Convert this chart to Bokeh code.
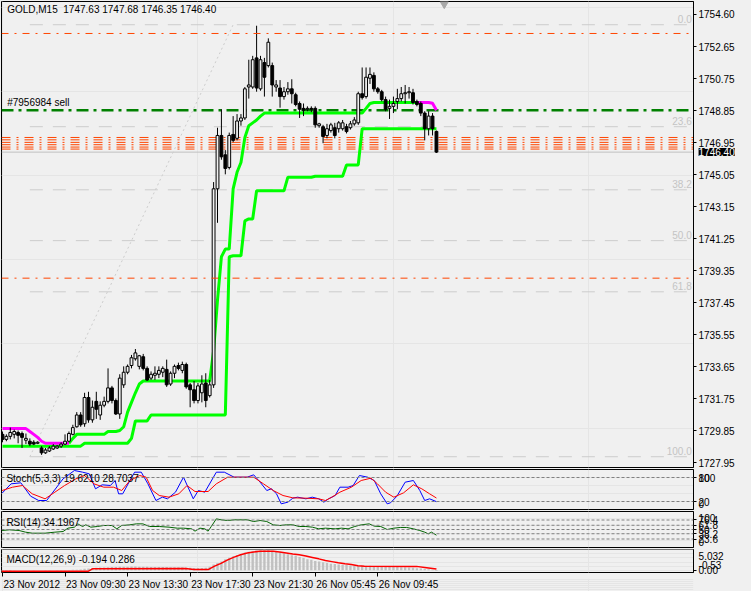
from bokeh.plotting import figure
from bokeh.layouts import column
from bokeh.models import Range1d, LinearAxis, FixedTicker, Label, Span, NumeralTickFormatter
from bokeh.core.properties import value
from bokeh.embed import file_html
from bokeh.resources import INLINE

# ---------------- data ----------------
opens = [1729.63,1729.33,1729.51,1729.63,1729.74,1729.68,1729.28,1729.22,1729.16,1729.10,
         1728.82,1728.53,1728.64,1728.76,1728.82,1728.93,1729.05,1729.22,1729.63,1730.08,
         1730.78,1730.26,1731.82,1730.49,1731.59,1730.78,1731.36,1731.59,1732.39,1731.64,
         1730.84,1732.57,1733.32,1733.72,1734.12,1733.67,1734.24,1733.55,1732.97,1733.14,
         1733.20,1733.32,1733.49,1732.62,1733.26,1733.72,1733.43,1733.78,1732.57,1732.28,
         1731.64,1732.10,1732.68,1731.93,1732.57,1744.22,1747.39,1746.24,1745.49,1747.45,
         1747.22,1748.25,1748.43,1750.27,1750.27,1752.00,1750.16,1751.72,1751.54,1751.54,
         1750.27,1750.21,1749.70,1749.99,1750.16,1749.81,1749.29,1749.00,1748.95,1749.00,
         1749.00,1747.97,1747.91,1747.39,1747.68,1747.85,1747.79,1747.79,1747.91,1747.85,
         1748.08,1748.14,1749.87,1749.70,1750.79,1750.96,1750.16,1749.99,1749.52,1749.00,
         1749.12,1749.41,1749.58,1749.87,1749.93,1749.93,1749.41,1749.29,1748.72,1747.79,
         1748.54,1747.63]
highs = [1729.80,1729.63,1730.03,1729.91,1729.86,1729.80,1729.68,1729.39,1729.28,1729.22,
         1728.93,1728.82,1728.93,1729.05,1728.99,1729.16,1729.63,1729.80,1730.20,1730.95,
         1730.95,1732.10,1732.16,1731.64,1732.16,1731.59,1731.87,1733.55,1732.51,1731.76,
         1733.20,1733.67,1733.78,1734.35,1734.70,1734.35,1734.41,1733.67,1733.37,1733.67,
         1733.67,1733.67,1734.07,1733.37,1733.78,1733.89,1733.95,1733.89,1732.68,1732.80,
         1732.68,1733.14,1733.26,1732.86,1744.62,1747.85,1748.95,1746.52,1747.56,1748.54,
         1748.66,1748.66,1750.27,1751.89,1752.12,1753.91,1752.12,1752.00,1753.16,1751.72,
         1750.68,1750.68,1750.27,1750.56,1750.73,1749.93,1749.41,1749.29,1749.12,1749.12,
         1749.12,1748.14,1748.02,1748.08,1748.14,1748.14,1748.25,1748.31,1748.08,1748.25,
         1748.48,1749.99,1751.43,1751.43,1751.43,1751.14,1750.27,1750.10,1749.70,1749.52,
         1749.70,1750.16,1750.27,1750.39,1750.27,1750.16,1749.52,1749.41,1748.83,1748.83,
         1748.72,1747.68]
lows = [1729.16,1729.22,1729.33,1729.39,1729.10,1728.82,1729.05,1728.93,1728.99,1729.05,
        1728.41,1728.47,1728.58,1728.70,1728.76,1728.82,1728.99,1729.16,1729.57,1730.03,
        1730.08,1730.08,1730.32,1730.32,1730.55,1730.49,1731.24,1731.47,1731.47,1730.78,
        1730.55,1732.39,1733.20,1733.55,1734.01,1733.49,1733.43,1732.80,1732.86,1732.86,
        1732.97,1733.03,1732.45,1732.51,1732.97,1733.43,1733.26,1732.34,1731.24,1731.47,
        1731.47,1731.53,1731.24,1731.82,1732.39,1742.20,1745.95,1745.08,1745.37,1746.99,
        1747.10,1747.97,1748.31,1749.58,1750.16,1749.99,1750.05,1749.70,1751.43,1749.70,
        1749.99,1749.04,1749.52,1749.81,1749.29,1749.12,1748.43,1748.54,1748.83,1748.77,
        1747.85,1747.85,1746.93,1747.22,1747.56,1747.22,1747.56,1747.68,1747.51,1747.74,
        1747.97,1748.02,1749.52,1749.58,1750.45,1749.99,1749.87,1749.41,1748.83,1748.37,
        1748.72,1748.95,1749.41,1749.29,1749.58,1749.23,1749.12,1748.54,1747.10,1747.39,
        1747.39,1746.35]
closes = [1729.33,1729.51,1729.74,1729.80,1729.57,1729.45,1729.39,1729.05,1729.05,1729.16,
          1728.53,1728.70,1728.82,1728.93,1728.93,1729.05,1729.22,1729.68,1730.03,1730.78,
          1730.20,1731.82,1730.49,1731.24,1731.12,1731.36,1731.59,1732.39,1731.64,1730.84,
          1732.97,1733.32,1733.67,1734.18,1734.47,1734.30,1733.55,1732.86,1733.20,1733.26,
          1733.43,1733.55,1732.57,1733.26,1733.67,1733.55,1733.78,1732.45,1732.28,1731.64,
          1732.51,1732.62,1731.64,1732.57,1744.22,1747.39,1746.12,1745.43,1747.39,1747.10,
          1748.25,1748.43,1750.16,1750.39,1751.89,1750.21,1751.89,1750.85,1752.93,1750.39,
          1750.39,1749.70,1749.99,1750.16,1749.87,1749.23,1748.95,1748.89,1749.00,1748.95,
          1748.02,1748.08,1747.33,1747.79,1748.02,1747.39,1748.14,1748.14,1747.62,1748.08,
          1748.31,1749.87,1749.64,1750.85,1751.02,1750.16,1749.99,1749.52,1748.95,1749.12,
          1749.29,1749.58,1749.87,1749.93,1749.99,1749.35,1749.23,1748.72,1747.79,1748.54,
          1747.79,1746.40]

# trailing stop lines (per bar)
stop_fast = ([1729.97]*7 + [1729.80,1729.63,1729.45,1729.22] + [1729.10]*7 + [1729.39] + [1729.63]*8
             + [1729.80]*3 + [1729.86,1730.08,1730.95,1731.53,1732.10,1732.62] + [1732.80]*18
             + [1734.58,1737.60,1740.18,1740.64,1740.64,1744.22,1745.20,1745.78,1747.27,1747.97,1748.14,1748.31,1748.54]
             + [1748.72]*26 + [1749.00,1749.29] + [1749.35]*15 + [1749.30,1748.89])
stop_slow = ([1728.93]*21 + [1729.10]*12 + [1729.39] + [1730.43]*4 + [1730.78]*20 + [1740.18]
             + [1740.24]*3 + [1742.31] + [1742.43]*2 + [1744.10]*8 + [1744.91]*7 + [1744.97]*8
             + [1745.64]*4 + [1747.79]*20)
fast_down_start = [0, 106]   # magenta segments (bar ranges)
fast_down_end = [17, 111]

# price levels / objects
price_ticks = [1754.60,1752.65,1750.75,1748.85,1746.95,1745.05,1743.15,1741.25,
               1739.35,1737.45,1735.55,1733.65,1731.75,1729.85,1727.95]
fib_names = ["0.0","23.6","38.2","50.0","61.8","100.0"]
fib_prices = [1753.97,1747.91,1744.16,1741.14,1738.10,1728.30]
fib_bars = [7, 59]
fib_diag = [1728.30, 1753.97]
red_lines = [1753.45, 1738.91]
order_lines = [1747.27,1747.13,1746.98,1746.84,1746.70,1746.58]
sell_line = 1748.89
bid = 1746.40

# Stochastic
stoch_k_x = [-0.1,2.2,4.7,7.2,9.25,11.3,15.5,18.4,20.5,22.2,23.8,25.5,27.6,28.8,29.7,30.75,32.6,33.8,35.5,37.2,
             39.25,40.9,42.2,44.25,46.3,48.8,50.1,51.75,54.7,56.75,59.25,62.6,64.25,65.9,67.6,68.8,70.1,71.3,73,74.25,
             75.5,77.6,79.25,80.9,82.2,83.4,85.1,86.3,88.4,89.7,91.3,93.4,95.1,96.75,98.4,99.25,100.9,103,105.1,106.75,
             108,109.25,111]
stoch_k_y = [40.8,64.2,66.7,33.3,22.5,22.5,76.7,97.5,93.3,89.2,51.7,61.7,60,72.5,39.2,39.2,72.5,93.3,93.3,64.2,
             22.5,30.8,26.7,43.3,80.8,26.7,47.5,43.3,93.3,93.3,80.8,80.8,86.7,68.3,47.5,51.7,39.2,14.2,18.3,28.3,
             30.8,26.7,30.8,26.7,18.3,26.7,35,55.8,55.8,60,85,80.8,72.5,39.2,14.2,16.7,33.3,68.3,72.5,47.5,
             22.5,26.7,19.62]
stoch_d_x = [-0.1,2.6,5.1,7.6,10.9,13.4,15.9,18.8,21,23.4,25.9,28.4,30.5,32.6,35.1,36.75,38.4,40.1,42.6,45.1,
             47.2,49.25,52.6,54.7,57.6,60.9,64.25,66.75,69.25,71.75,74.25,77.6,80.9,82.6,84.25,86.3,89.25,91.75,94.25,95.9,
             98,100.1,102.6,105.1,107.25,109.25,111]
stoch_d_y = [47.5,55.8,60,39.2,26.7,43.3,60,76.7,85,64.2,55.8,55.8,47.5,72.5,85,80.8,47.5,35,30.8,39.2,
             60,45,45,64.2,80.8,80.8,80.8,64.2,47.5,35,29.2,28.3,26.7,22.5,30.8,43.3,55.8,72.5,78.3,64.2,
             43.3,30.8,41.7,61.7,51.7,39.2,28.70]
stoch_levels = [80, 20]

# RSI
rsi_x = [-0.1,1.75,4.25,5.9,7.6,10.9,13.4,15.5,16.75,18.4,19.25,20.5,21.3,22.6,24.25,25.9,28,29.25,30.5,32.6,
         34.25,35.9,37.6,40.1,42.6,44.7,46.3,48.4,49.25,50.5,51.75,52.6,53.4,54.7,55.9,57.6,59.25,62.6,64.25,65.9,
         67.6,69.25,70.9,72.6,74.25,75.9,77.6,79.25,80.9,82.6,85.1,86.75,88.4,90.1,91.75,93.8,95.1,96.75,98.4,100.1,
         101.75,103.4,105.1,106.75,108,108.9,109.75,111]
rsi_y = [47.2,49.1,47.2,42.6,39.8,39.8,42.6,44.4,53.7,56.5,65.7,58.3,63.0,56.5,58.3,61.1,61.1,51.9,61.1,63.0,
         65.7,65.7,58.3,58.3,56.5,53.7,53.7,51.9,45.4,53.7,51.9,45.4,58.3,79.6,76.9,75.0,76.9,76.9,72.2,75.0,
         72.2,63.0,61.1,63.0,63.0,58.3,58.3,56.5,51.9,53.7,51.9,53.7,51.9,58.3,63.0,65.7,59.3,58.3,50.0,53.7,
         55.6,55.6,51.9,47.2,42.6,38.0,42.6,34.2]
rsi_levels = [76.4, 61.8, 50, 38.2, 23.6]

# MACD
macd_hist = [-0.45,-0.35,-0.25,
             0.05,0.03,0.04,0.02,0.03,0.05,0.04,0.03,0.06,0.05,0.04,0.06,0.07,0.08,0.1,0.12,0.15,0.2,
             0.35,0.45,0.55,0.6,0.65,0.7,0.75,0.8,0.82,0.85,0.85,0.88,0.9,0.9,0.88,0.86,0.84,0.82,0.8,0.8,
             0.78,0.78,0.76,0.75,0.74,0.72,0.7,
             0.62,0.58,0.55,0.55,0.6,
             0.84,1.43,1.77,2.11,2.7,3.03,3.37,3.62,3.96,4.3,
             4.47,4.63,4.72,4.85,5.03,4.9,4.72,4.55,4.38,4.13,
             3.88,3.62,3.54,3.2,2.95,2.7,2.53,2.27,2.11,1.94,
             1.77,1.6,1.52,1.43,1.35,1.26,1.18,1.1,1.1,1.1,
             1.1,1.08,1.0,1.0,1.0,0.93,0.84,0.84,0.82,0.76,
             0.74,0.67,0.59,0.5,0.42,0.34,0.25,0.12,-0.194]
sig_x = [-0.25,22,23,46.75,49,52.6,54.25,55.9,57.6,59.25,60.9,62.6,64.25,65.9,69.25,70.9,72.6,74.25,75.9,77.6,
         79.25,80.9,82.6,84.25,85.9,87.6,89.25,90.9,92.6,105.9,108,111]
sig_y = [-0.25,-0.2,0.35,0.42,0.2,0.17,1.0,1.68,2.52,3.19,3.78,4.2,4.45,4.62,4.62,4.45,4.2,3.95,3.78,3.45,
         3.11,2.77,2.35,2.1,1.85,1.6,1.43,1.09,1.0,0.95,0.7,0.29]

time_ticks = [0, 16, 32, 48, 64, 80, 96]
time_labels = ["23 Nov 2012", "23 Nov 09:30", "23 Nov 13:30", "23 Nov 17:30",
               "23 Nov 21:30", "26 Nov 05:45", "26 Nov 09:45"]

assert len(opens) == len(highs) == len(lows) == len(closes) == len(stop_fast) == len(stop_slow) == len(macd_hist) == 112

# ---------------- styling ----------------
BG = "#f0f0f0"
FONT = "Liberation Sans"
FS = "10px"
xr = Range1d(-0.25, 176.75)
LABX = 178.05  # just right of the frame, where axis labels sit


def panel(frame_h, y0, y1, top=1, bottom=1, outline="black"):
    f = figure(frame_width=692, frame_height=frame_h, x_range=xr, y_range=Range1d(y0, y1),
               output_backend="svg", toolbar_location=None,
               x_axis_location=None, y_axis_location=None,
               min_border_left=1, min_border_right=42, min_border_top=top, min_border_bottom=bottom,
               background_fill_color=BG, border_fill_color=BG,
               outline_line_color=outline, outline_line_width=1)
    return f


def right_axis(f, ticks, fmt=None):
    ax = LinearAxis(ticker=FixedTicker(ticks=ticks), axis_line_color="black",
                    major_tick_line_color="black", major_tick_out=3, major_tick_in=0,
                    minor_tick_out=0, minor_tick_in=0, major_label_standoff=2,
                    major_label_text_font=FONT, major_label_text_font_size=FS,
                    major_label_text_color="black")
    if fmt is not None:
        ax.formatter = fmt
    f.add_layout(ax, "right")
    return ax


def lab(f, x, y, text, color="black", align="left", baseline="middle", side=None, **kw):
    lbl = Label(x=x, y=y, text=text, text_font=FONT, text_font_size=FS, text_color=color,
                text_align=align, text_baseline=baseline, **kw)
    if side is None:
        f.add_layout(lbl)
    else:
        f.add_layout(lbl, side)


# ---------------- main price panel ----------------
p = panel(466, 1727.66, 1755.35)
right_axis(p, price_ticks, NumeralTickFormatter(format="0.00"))

# fibo
p.segment(x0=[fib_bars[0]] * len(fib_prices), x1=[176.75] * len(fib_prices), y0=fib_prices, y1=fib_prices,
          line_color="#cccccc", line_width=1, line_dash="13 10")
p.line(x=fib_bars, y=fib_diag, line_color="#cccccc", line_width=1, line_dash="2 3")
for name, lvl in zip(fib_names, fib_prices):
    lab(p, 176.3, lvl + 0.08, name, color="#c4c4c4", align="right", baseline="bottom")

for lvl in red_lines:
    p.add_layout(Span(location=lvl, dimension="width", line_color="#ff4500", line_width=1, line_dash="7 6 2 6"))
for lvl in order_lines:
    p.add_layout(Span(location=lvl, dimension="width", line_color="#ff4500", line_width=1, line_dash="9 6 2 6",
                      level="underlay"))
p.add_layout(Span(location=sell_line, dimension="width", line_color="#008000", line_width=2.5,
                  line_dash="12 5 3 5", level="underlay"))
p.add_layout(Span(location=bid, dimension="width", line_color="#c0c0c0", line_width=1, level="underlay"))

# stop lines
idx = list(range(len(closes)))
p.line(x=idx, y=stop_slow, line_color="#00ff00", line_width=3)
g0, g1 = fast_down_end[0], fast_down_start[1]
p.line(x=idx[g0:g1 + 1], y=stop_fast[g0:g1 + 1], line_color="#00ff00", line_width=3)
for a, b in zip(fast_down_start, fast_down_end):
    p.line(x=idx[a:b + 1], y=stop_fast[a:b + 1], line_color="#ff00ff", line_width=3)

# candles
p.segment(x0=idx, x1=idx, y0=lows, y1=highs, line_color="black", line_width=1)
bull = [i for i in idx if closes[i] >= opens[i]]
bear = [i for i in idx if closes[i] < opens[i]]
p.vbar(x=bull, width=0.72, top=[closes[i] for i in bull], bottom=[opens[i] for i in bull],
       fill_color=BG, line_color="black", line_width=1)
p.vbar(x=bear, width=0.72, top=[opens[i] for i in bear], bottom=[closes[i] for i in bear],
       fill_color="black", line_color="black", line_width=1)

# chart-shift marker
p.scatter(x=[113], y=[1755.2], marker="inverted_triangle", size=8, color="#a8a8a8")

lab(p, 1.2, 1755.2, "GOLD,M15\u00a0 1747.63 1747.68 1746.35 1746.40", baseline="top")
lab(p, 1.2, sell_line + 0.12, "#7956984 sell", baseline="bottom")
lab(p, LABX, bid, "1746.40", color="white", side="right", background_fill_color="black")

# ---------------- stochastic ----------------
s = panel(40, 0, 100)
right_axis(s, stoch_levels)
for lvl in stoch_levels:
    s.add_layout(Span(location=lvl, dimension="width", line_color="#808080", line_width=1, line_dash="3 2"))
s.line(x=stoch_k_x, y=stoch_k_y, line_color="#0000ff", line_width=1)
s.line(x=stoch_d_x, y=stoch_d_y, line_color="#ff0000", line_width=1)
lab(s, 1.0, 92, "Stoch(5,3,3) 19.6210 28.7037", baseline="top")
lab(s, LABX, 80, "100", side="right")
lab(s, LABX, 15, "0", side="right")

# ---------------- RSI ----------------
r = panel(36, 0, 100)
right_axis(r, rsi_levels)
for lvl in rsi_levels:
    r.add_layout(Span(location=lvl, dimension="width", line_color="#808080", line_width=1, line_dash="3 2"))
r.line(x=rsi_x, y=rsi_y, line_color="#006400", line_width=1)
lab(r, 1.0, 84, "RSI(14) 34.1967", baseline="top")
lab(r, LABX, 82, "100", side="right")
lab(r, LABX, 16, "0", side="right")

# ---------------- MACD ----------------
m = panel(23, -0.53, 5.032, bottom=6)
right_axis(m, [0], NumeralTickFormatter(format="0.00"))
m.vbar(x=idx, width=0.6, top=macd_hist, bottom=0, fill_color="#c0c0c0", line_color=None)
m.line(x=sig_x, y=sig_y, line_color="#ff0000", line_width=1.5)
lab(m, 1.0, 3.9, "MACD(12,26,9) -0.194 0.286", baseline="top")
lab(m, LABX, 3.4, "5.032", side="right")
lab(m, LABX, 1.3, "-0.53", side="right")
tax = LinearAxis(ticker=FixedTicker(ticks=time_ticks), axis_line_color=None, major_tick_out=4, major_tick_in=0,
                 major_tick_line_color="black", minor_tick_out=0, minor_tick_in=0,
                 major_label_text_font_size="1px", major_label_text_alpha=0, major_label_standoff=0)
m.add_layout(tax, "below")

# ---------------- time scale labels ----------------
t = panel(13, 0, 13, top=0, bottom=0, outline=None)
t.text(x=time_ticks, y=[12.5] * len(time_ticks), text=time_labels, text_font=value(FONT),
       text_font_size=value(FS), text_color="black", text_align="left", text_baseline="top", x_offset=1)

layout = column(p, s, r, m, t, spacing=0, background=BG)
open("out.html", "w").write(file_html(layout, INLINE))
